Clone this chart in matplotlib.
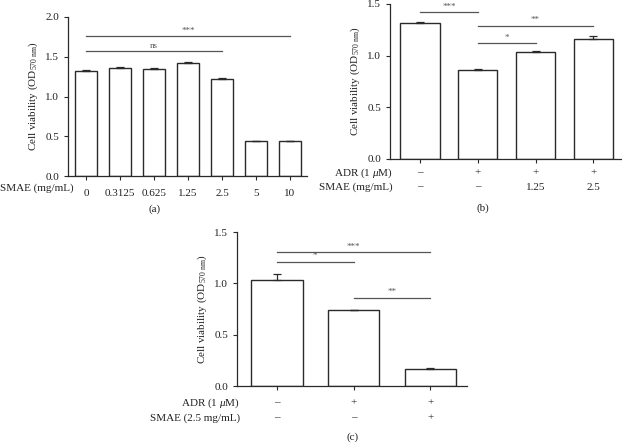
import matplotlib
matplotlib.use("Agg")
import matplotlib.pyplot as plt
from matplotlib.transforms import blended_transform_factory

plt.rcParams['font.family'] = ['Liberation Serif', 'DejaVu Serif']
plt.rcParams['mathtext.fontset'] = 'custom'
plt.rcParams['mathtext.rm'] = 'Liberation Serif'
plt.rcParams['mathtext.it'] = 'Liberation Serif:italic'

# Panel (a)
a_labels = ["0", "0.3125", "0.625", "1.25", "2.5", "5", "10"]
a_values = [1.32, 1.36, 1.345, 1.42, 1.225, 0.435, 0.435]
a_err = [0.008, 0.008, 0.015, 0.012, 0.012, 0.008, 0.008]
a_sig = [(0, 4, 1.57, "ns"), (0, 6, 1.76, "***")]

# Panel (b)
b_adr = ["\u2013", "+", "+", "+"]
b_smae = ["\u2013", "\u2013", "1.25", "2.5"]
b_values = [1.32, 0.865, 1.04, 1.165]
b_err = [0.004, 0.008, 0.006, 0.022]
b_sig = [(0, 1, 1.42, "***"), (1, 3, 1.29, "**"), (1, 2, 1.12, "*")]

# Panel (c)
c_adr = ["\u2013", "+", "+"]
c_smae = ["\u2013", "\u2013", "+"]
c_values = [1.03, 0.74, 0.17]
c_err = [0.065, 0.004, 0.004]
c_sig = [(0, 2, 1.305, "***"), (0, 1, 1.21, "*"), (1, 2, 0.86, "**")]

W, H = 622, 445
fig = plt.figure(figsize=(W/100, H/100), dpi=100)

EC = '#2a2a2a'
LC = '#555555'
FS = 8

def px_axes(l, r, t, b):
    return fig.add_axes([l/W, 1-b/H, (r-l)/W, (b-t)/H])

def style(ax, ymax, step):
    for s in ['top', 'right']:
        ax.spines[s].set_visible(False)
    for s in ['left', 'bottom']:
        ax.spines[s].set_color(EC)
        ax.spines[s].set_linewidth(0.9)
    ax.set_ylim(0, ymax)
    import numpy as np
    ax.set_yticks(np.arange(0, ymax + 1e-9, step))
    ax.set_yticklabels([f"{v:.1f}" for v in np.arange(0, ymax + 1e-9, step)], fontsize=FS)
    ax.tick_params(axis='both', direction='out', length=3, width=0.8, color=EC, labelcolor='#222222')
    ax.set_ylabel("Cell viability (OD$_{570\\ \\mathrm{nm}}$)", fontsize=FS, color='#222222', labelpad=4)

def bars(ax, values, err, width):
    x = list(range(len(values)))
    ax.bar(x, values, width=width, color='white', edgecolor=EC, linewidth=1.0, zorder=2)
    ax.errorbar(x, values, yerr=[[0]*len(err), err], fmt='none', ecolor=EC,
                elinewidth=0.9, capsize=3, capthick=0.9, zorder=3)
    return x

def sig(ax, sigs):
    for i, j, y, t in sigs:
        ax.plot([i, j], [y, y], color=LC, lw=0.9, clip_on=False)
        ax.text((i+j)/2, y + 0.01*ax.get_ylim()[1], t, ha='center', va='bottom',
                fontsize=6.5, color=LC)

# (a)
axa = px_axes(68, 307, 17, 176)
xa = bars(axa, a_values, a_err, 0.65)
axa.set_xlim(-0.53, 6.5)
style(axa, 2.0, 0.5)
axa.set_xticks(xa)
axa.set_xticklabels(a_labels, fontsize=FS)
axa.tick_params(axis='x', pad=6)
sig(axa, a_sig)
fig.text(0/W, 1-188/H, "SMAE (mg/mL)", fontsize=FS, ha='left', va='center', color='#222222')
fig.text(155/W, 1-209/H, "(a)", fontsize=FS, ha='center', va='center', color='#222222')

# (b)
axb = px_axes(390, 621, 4, 159)
xb = bars(axb, b_values, b_err, 0.68)
axb.set_xlim(-0.52, 3.48)
style(axb, 1.5, 0.5)
axb.set_xticks(xb)
axb.set_xticklabels([])
sig(axb, b_sig)
tb = blended_transform_factory(axb.transData, fig.transFigure)
for i in xb:
    axb.text(i, 1-173/H, b_adr[i], transform=tb, ha='center', va='center', fontsize=FS, color='#222222')
    axb.text(i, 1-187/H, b_smae[i], transform=tb, ha='center', va='center', fontsize=FS, color='#222222')
fig.text(393/W, 1-173/H, "ADR (1 $\\mathit{\\mu}$M)", fontsize=FS, ha='right', va='center', color='#222222')
fig.text(393/W, 1-187/H, "SMAE (mg/mL)", fontsize=FS, ha='right', va='center', color='#222222')
fig.text(483/W, 1-208/H, "(b)", fontsize=FS, ha='center', va='center', color='#222222')

# (c)
axc = px_axes(237, 467, 232, 386)
xc = bars(axc, c_values, c_err, 0.67)
axc.set_xlim(-0.52, 2.48)
style(axc, 1.5, 0.5)
axc.set_xticks(xc)
axc.set_xticklabels([])
sig(axc, c_sig)
tc = blended_transform_factory(axc.transData, fig.transFigure)
for i in xc:
    axc.text(i, 1-403/H, c_adr[i], transform=tc, ha='center', va='center', fontsize=FS, color='#222222')
    axc.text(i, 1-418/H, c_smae[i], transform=tc, ha='center', va='center', fontsize=FS, color='#222222')
fig.text(240/W, 1-403/H, "ADR (1 $\\mathit{\\mu}$M)", fontsize=FS, ha='right', va='center', color='#222222')
fig.text(240/W, 1-418/H, "SMAE (2.5 mg/mL)", fontsize=FS, ha='right', va='center', color='#222222')
fig.text(353/W, 1-437/H, "(c)", fontsize=FS, ha='center', va='center', color='#222222')

fig.savefig("out.png", dpi=100, facecolor='white')
